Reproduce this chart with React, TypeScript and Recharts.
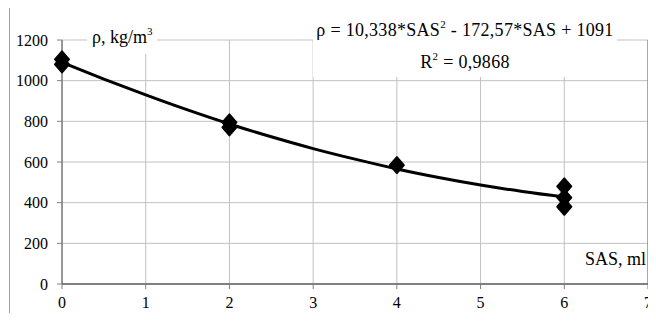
import {
  CartesianGrid,
  ComposedChart,
  Line,
  ReferenceLine,
  Scatter,
  XAxis,
  YAxis,
} from "recharts"

// trend line at half steps of SAS
const trendSas = [0, 0.5, 1, 1.5, 2, 2.5, 3, 3.5, 4, 4.5, 5, 5.5, 6]
const trendRho = [1090, 1008, 930, 856, 787, 724, 666, 614, 566, 524, 487, 455, 428]

// measured points
const pointSas = [0, 0, 2, 2, 4, 6, 6, 6]
const pointRho = [1105, 1080, 795, 770, 585, 480, 425, 380]

const xTicks = [0, 1, 2, 3, 4, 5, 6, 7]
const yTicks = [0, 200, 400, 600, 800, 1000, 1200]

const font =
  "'Liberation Serif', Tinos, 'Times New Roman', Times, 'DejaVu Serif', serif"

const Diamond = (props: any) => {
  const { cx, cy } = props
  if (cx == null || cy == null) return null
  return (
    <polygon
      points={`${cx},${cy - 8} ${cx + 7},${cy} ${cx},${cy + 8} ${cx - 7},${cy}`}
      fill="#000"
      stroke="#000"
      strokeWidth={2}
      strokeLinejoin="round"
    />
  )
}

const sup = { fontSize: 11, position: "relative" as const, top: -8 }

export default function App() {
  const trend = trendSas.map((x, i) => ({ x, y: trendRho[i] }))
  const points = pointSas.map((x, i) => ({ x, y: pointRho[i] }))

  return (
    <div
      style={{
        position: "relative",
        width: 646,
        height: 315,
        overflow: "hidden",
        marginTop: -1,
        marginLeft: 1,
        marginBottom: -10,
        borderLeft: "1px solid #a0a0a0",
        borderTop: "1px solid #a0a0a0",
        fontFamily: font,
        color: "#000",
      }}
    >
      <style>{`text { font-family: ${font}; } html, body { overflow: hidden; }`}</style>
      <ComposedChart
        width={670}
        height={315}
        margin={{ top: 32, right: 32, left: 0, bottom: 9 }}
      >
        <CartesianGrid stroke="#c0c0c0" />
        <XAxis
          type="number"
          dataKey="x"
          domain={[0, 7]}
          ticks={xTicks}
          height={30}
          tickSize={5}
          tickMargin={8}
          stroke="#606060"
          strokeWidth={1.5}
          tickLine={{ stroke: "#808080", strokeWidth: 1 }}
          tick={{ fill: "#000", fontSize: 16, fontFamily: font }}
        />
        <YAxis
          type="number"
          dataKey="y"
          domain={[0, 1200]}
          ticks={yTicks}
          width={52}
          tickSize={5}
          tickMargin={9}
          stroke="#505050"
          tickLine={{ stroke: "#808080" }}
          tick={{ fill: "#000", fontSize: 16, fontFamily: font }}
        />
        <ReferenceLine x={7} stroke="#707070" />
        <Line
          data={trend}
          dataKey="y"
          type="monotone"
          stroke="#000"
          strokeWidth={3}
          dot={false}
          isAnimationActive={false}
        />
        <Scatter
          data={points}
          dataKey="y"
          shape={Diamond}
          isAnimationActive={false}
        />
      </ComposedChart>

      <div
        style={{
          position: "absolute",
          left: 77,
          top: 18,
          padding: "2px 5px 6px",
          background: "#fff",
          fontSize: 18,
          lineHeight: "18px",
          whiteSpace: "nowrap",
        }}
      >
        ρ, kg/m<span style={sup}>3</span>
      </div>

      <div
        style={{
          position: "absolute",
          left: 303,
          top: 7,
          width: 304,
          height: 62,
          background: "#fff",
          fontSize: 18,
          lineHeight: "30px",
          textAlign: "center",
          whiteSpace: "nowrap",
          letterSpacing: 0.3,
        }}
      >
        <div>
          ρ = 10,338*SAS<span style={sup}>2</span> - 172,57*SAS + 1091
        </div>
        <div>
          R<span style={sup}>2</span> = 0,9868
        </div>
      </div>

      <div
        style={{
          position: "absolute",
          left: 573,
          top: 242,
          width: 63,
          background: "#fff",
          fontSize: 18,
          lineHeight: "18px",
          textAlign: "right",
          whiteSpace: "nowrap",
        }}
      >
        SAS, ml
      </div>
    </div>
  )
}
